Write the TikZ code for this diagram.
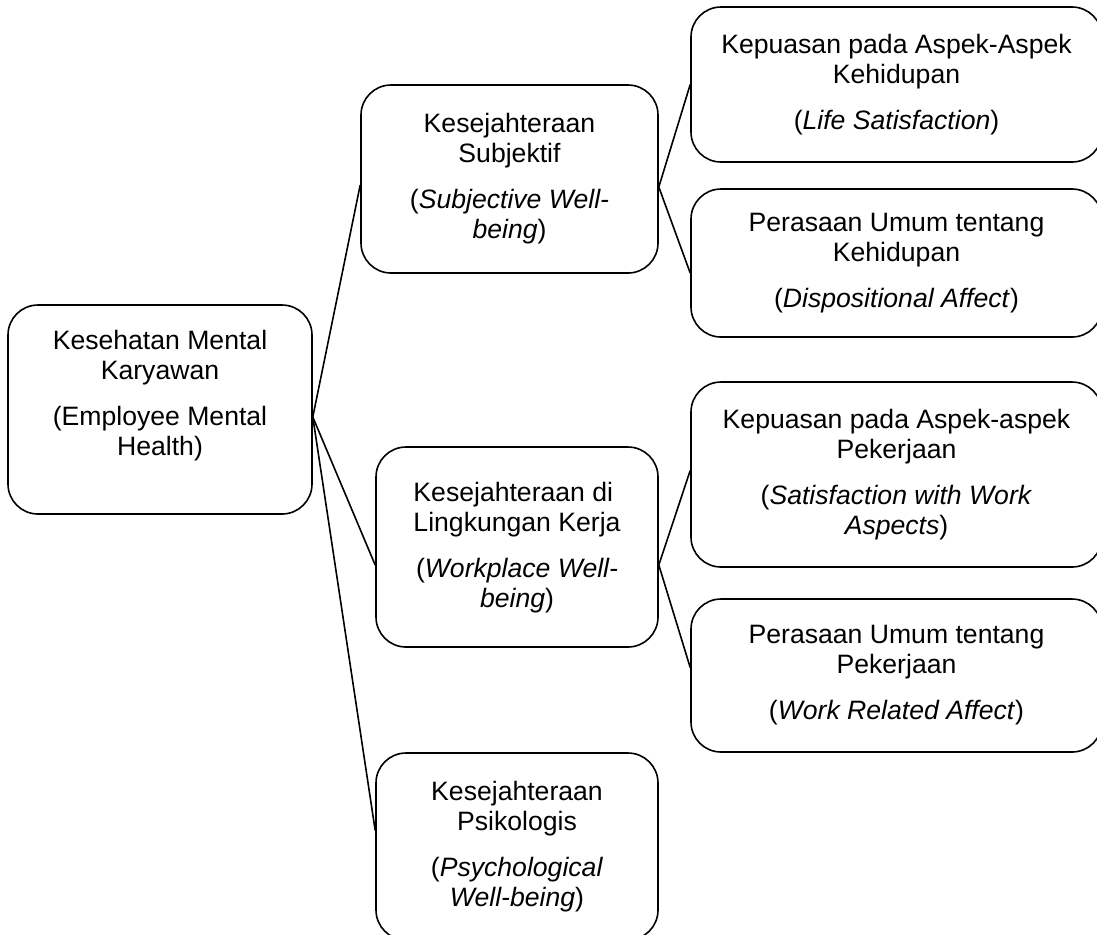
\documentclass[tikz,border=0pt]{standalone}
\usepackage{fontspec}
\setmainfont{Liberation Sans}
\newcommand\EngText[1]{(\textit{#1})}

\begin{document}
\begin{tikzpicture}[x=0.5pt,y=-0.5pt,
  box/.style={draw,line width=0.8pt,rounded corners=15pt,inner sep=0pt,align=center,
    font=\fontsize{13.3}{15}\selectfont},
  wide/.style={box,minimum width=205.5pt},
  link/.style={line width=0.8pt}]
\clip (0,0) rectangle (1097,934);
% root
\node[box,minimum width=152pt,minimum height=104.5pt,text depth=17pt] (health) at (160,409.5)
  {Kesehatan Mental\\Karyawan\\[8pt](Employee Mental\\Health)};
% second level
\node[box,minimum width=148.5pt,minimum height=94pt] (subj) at (509.5,179)
  {Kesejahteraan\\Subjektif\\[8pt](\textit{Subjective Well-}\\\textit{being})};
\node[box,minimum width=141pt,minimum height=100pt] (work) at (517,547)
  {\begin{tabular}{@{}l@{}}Kesejahteraan di\\Lingkungan Kerja\end{tabular}\\[8pt](\textit{Workplace Well-}\\\textit{being})};
\node[box,minimum width=141pt,minimum height=93.5pt] (psych) at (517,846.5)
  {Kesejahteraan\\Psikologis\\[8pt](\textit{Psychological}\\\textit{Well-being})};
% third level
\node[wide,minimum height=77.5pt] (life) at (896.5,84.5)
  {Kepuasan pada Aspek-Aspek\\Kehidupan\\[8pt]\EngText{Life Satisfaction}};
\node[wide,minimum height=74pt] (disp) at (896.5,263)
  {Perasaan Umum tentang\\Kehidupan\\[8pt]\EngText{Dispositional Affect}};
\node[wide,minimum height=92.5pt] (aspect) at (896.5,474.5)
  {Kepuasan pada Aspek-aspek\\Pekerjaan\\[8pt](\textit{Satisfaction with Work}\\\textit{Aspects})};
\node[wide,minimum height=76.5pt] (affect) at (896.5,675.5)
  {Perasaan Umum tentang\\Pekerjaan\\[8pt]\EngText{Work Related Affect}};
% connectors
\draw[link] ([yshift=-3.75pt]health.east) -- ([yshift=-3pt]subj.west);
\draw[link] ([yshift=-3.75pt]health.east) -- ([yshift=-9pt]work.west);
\draw[link] ([yshift=-3.75pt]health.east) -- ([yshift=8pt]psych.west);
\draw[link] ([yshift=-4pt]subj.east) -- (life.west);
\draw[link] ([yshift=-4pt]subj.east) -- ([yshift=-5pt]disp.west);
\draw[link] ([yshift=-9pt]work.east) -- ([yshift=2pt]aspect.west);
\draw[link] ([yshift=-9pt]work.east) -- ([yshift=4pt]affect.west);
\end{tikzpicture}
\end{document}
